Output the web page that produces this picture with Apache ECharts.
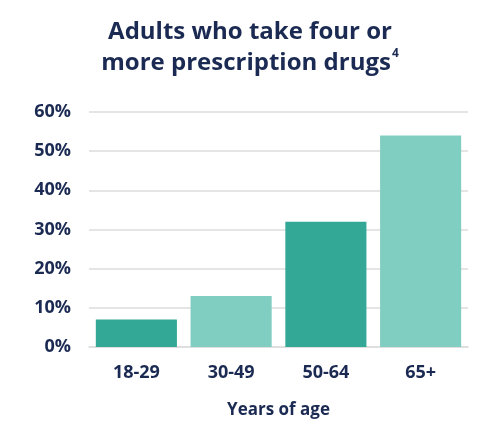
<!DOCTYPE html>
<html>
<head>
<meta charset="utf-8">
<script src="https://cdn.jsdelivr.net/npm/echarts@6/dist/echarts.min.js"></script>
<style>
  html, body { margin: 0; padding: 0; background: #fff; }
  #chart { width: 500px; height: 435px; }
</style>
</head>
<body>
<div id="chart"></div>
<script>
const categories = ['18-29', '30-49', '50-64', '65+']
const values = [7, 13, 32, 54]
const barColors = ['#33a896', '#80cdc1', '#33a896', '#80cdc1']
const yTicks = [0, 10, 20, 30, 40, 50, 60]

const navy = '#1b2a52'
const font = 'Open Sans'
const chart = echarts.init(document.getElementById('chart'))

chart.setOption({
  animation: false,
  title: {
    text: 'Adults who take four or\nmore prescription drugs{sup|4}',
    left: 'center',
    top: 12,
    textStyle: {
      color: navy,
      fontFamily: font,
      fontWeight: 'bold',
      fontSize: 24,
      lineHeight: 31,
      rich: {
        sup: { fontSize: 12, fontFamily: font, fontWeight: 'bold', color: navy, verticalAlign: 'top', padding: [0, 0, 6, 1] }
      }
    }
  },
  grid: { left: 89, right: 32, top: 112, bottom: 88 },
  xAxis: {
    type: 'category',
    data: categories,
    name: 'Years of age',
    nameLocation: 'middle',
    nameGap: 55,
    nameTextStyle: { color: navy, fontFamily: font, fontWeight: 'bold', fontSize: 17 },
    axisLine: { lineStyle: { color: '#dddddd', width: 1.5 } },
    axisTick: { show: false },
    axisLabel: { color: navy, fontFamily: font, fontWeight: 'bold', fontSize: 18, margin: 17 }
  },
  yAxis: {
    type: 'value',
    min: yTicks[0],
    max: yTicks[yTicks.length - 1],
    interval: 10,
    axisLine: { show: false },
    axisTick: { show: false },
    splitLine: { lineStyle: { color: '#dddddd', width: 1.5 } },
    axisLabel: { color: navy, fontFamily: font, fontWeight: 'bold', fontSize: 18, margin: 18, formatter: '{value}%' }
  },
  series: [{
    type: 'bar',
    barWidth: '85.6%',
    data: values.map((v, i) => ({ value: v, itemStyle: { color: barColors[i] } }))
  }]
})
</script>
</body>
</html>
